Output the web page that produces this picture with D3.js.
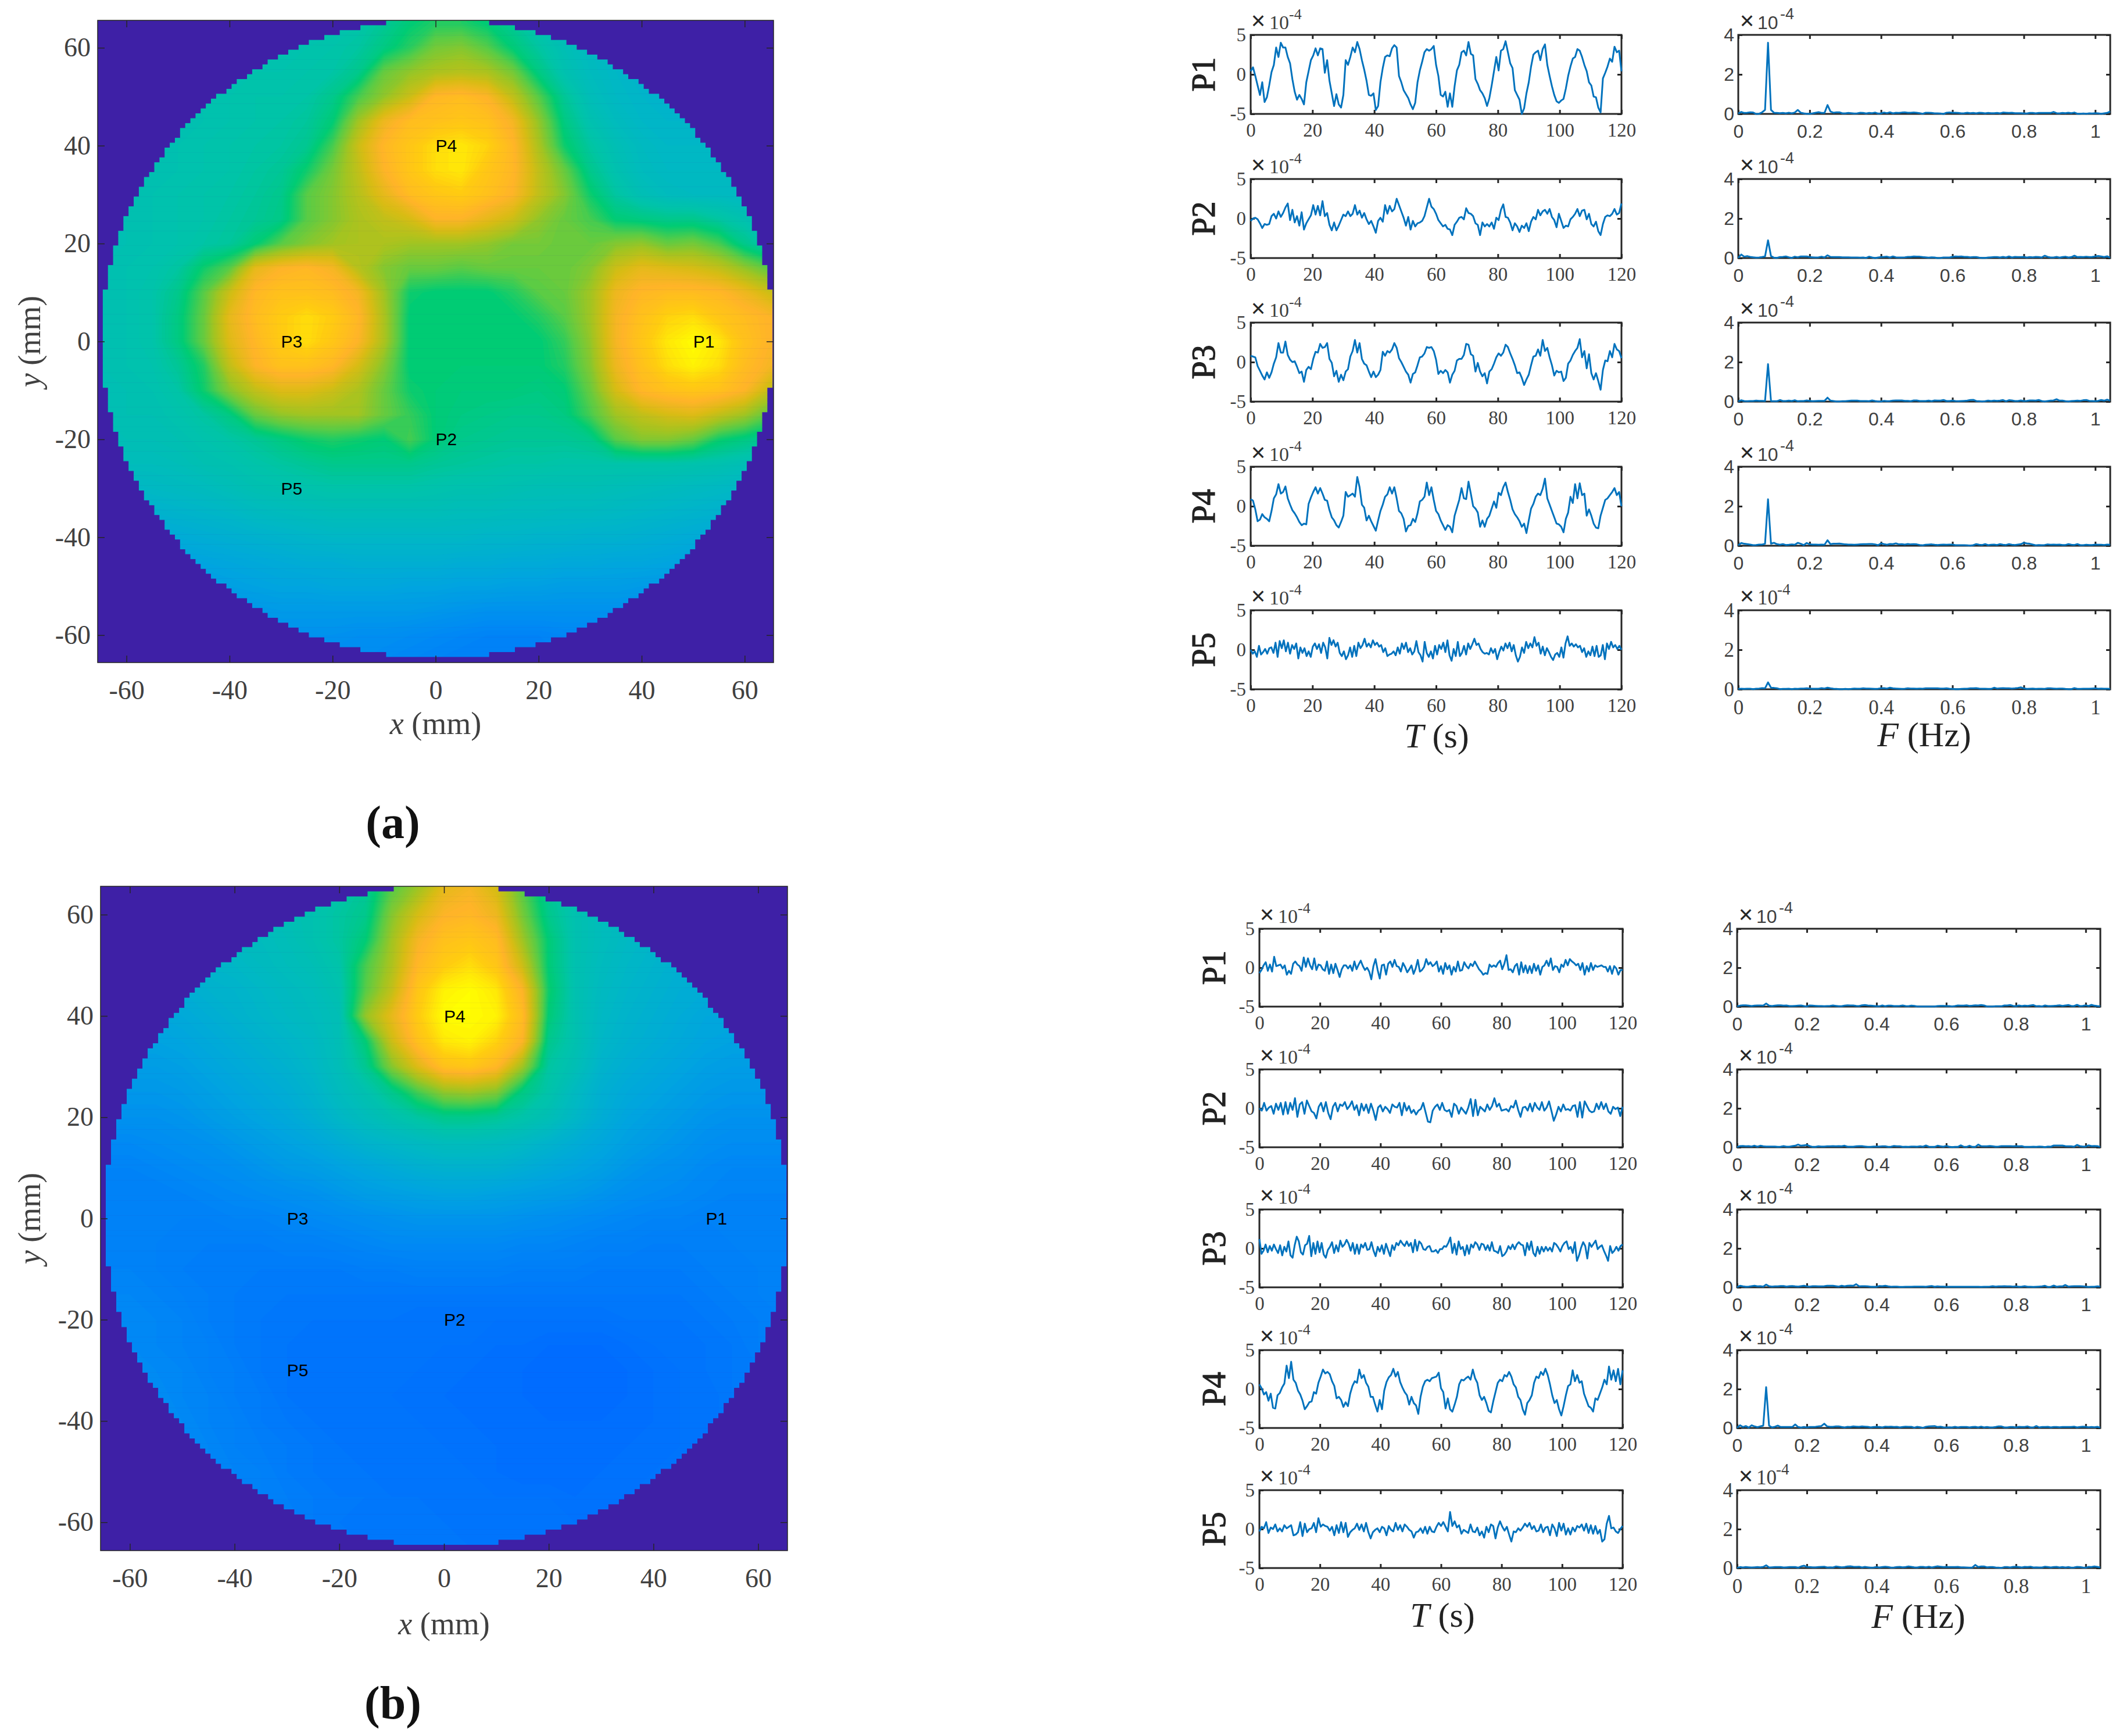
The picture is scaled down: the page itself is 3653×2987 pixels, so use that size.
<!DOCTYPE html>
<html>
<head>
<meta charset="utf-8">
<script src="https://cdn.jsdelivr.net/npm/d3@7"></script>
<style>
  html, body { margin: 0; padding: 0; background: #fff; }
  svg { display: block; }
</style>
</head>
<body>
<svg id="chart" width="3653" height="2987"></svg>
<script>
// Tick labels and point names
const mapTicks = [-60, -40, -20, 0, 20, 40, 60];
const timeTicks = [0, 20, 40, 60, 80, 100, 120];
const freqTicks = [0, 0.2, 0.4, 0.6, 0.8, 1];
const ampTicks = [-5, 0, 5];
const specTicks = [0, 2, 4];
const pointNames = ["P1", "P2", "P3", "P4", "P5"];
const pointX = [50, 0, -30, 0, -30];
const pointY = [0, -20, 0, 40, -30];

// Heat map readings, 5 mm grid: rows y = 65 to -65, columns x = -65 to 65
const mapA = [
  [32,32,32,32,32,33,34,35,36,38,40,44,50,54,54,50,44,38,34,30,28,28,28,28,28,28,28],
  [32,33,34,35,36,37,38,38,39,40,42,48,55,64,66,60,50,42,36,32,30,28,27,27,27,27,27],
  [33,34,35,36,37,38,39,39,40,41,46,62,68,72,74,72,64,48,38,33,30,28,27,27,27,27,27],
  [34,35,36,37,38,39,40,40,41,46,58,68,78,92,94,90,76,60,44,35,31,29,28,28,28,28,28],
  [34,35,36,37,38,39,40,41,43,50,70,86,94,96,98,96,88,68,48,38,33,30,29,29,29,29,29],
  [35,36,37,38,39,40,41,42,45,58,78,92,98,104,106,102,92,72,52,42,36,32,30,30,30,30,30],
  [35,36,37,38,39,40,42,44,52,64,76,90,98,104,106,98,92,76,62,46,38,33,31,31,31,31,31],
  [36,37,38,39,40,41,43,46,60,66,74,84,94,98,100,96,90,76,66,52,42,36,33,32,32,31,31],
  [36,37,38,39,40,42,44,47,60,66,72,76,80,90,90,84,78,68,62,58,50,48,46,46,42,38,35],
  [36,37,38,39,41,43,50,60,66,70,72,72,70,70,70,68,64,64,62,62,66,68,62,64,58,46,38],
  [37,38,39,42,52,60,84,90,92,88,74,66,62,62,60,62,62,62,62,66,78,84,82,80,76,68,60],
  [37,38,40,46,60,78,92,96,96,94,88,70,52,50,50,50,54,60,62,70,86,92,94,94,92,86,78],
  [37,38,40,48,62,84,94,100,104,100,92,72,50,50,50,50,50,54,60,70,88,96,102,104,98,94,90],
  [37,38,40,48,62,82,92,100,104,98,90,72,50,50,50,50,50,50,56,68,88,98,106,110,106,96,90],
  [37,38,39,44,54,76,90,96,96,92,80,66,50,50,50,50,50,50,54,66,86,96,104,108,104,94,88],
  [36,37,38,41,52,66,76,82,82,78,72,62,52,50,49,49,49,48,50,62,80,92,96,98,96,90,76],
  [36,37,37,39,42,48,62,68,70,70,70,62,56,50,48,47,46,46,48,58,70,76,80,82,76,70,60],
  [35,36,36,37,39,41,44,48,52,54,52,50,58,50,46,45,44,44,44,46,60,66,66,62,52,48,44],
  [33,34,34,35,37,38,40,42,44,46,46,46,46,44,43,42,41,41,40,40,40,40,40,39,38,36,34],
  [30,30,31,32,33,35,37,38,39,40,40,40,40,39,38,38,37,36,36,36,35,34,33,32,31,30,28],
  [26,26,27,28,29,30,32,33,34,35,35,35,35,35,34,34,33,33,32,32,31,30,29,28,27,26,25],
  [22,22,23,24,25,26,27,28,29,30,30,30,30,30,30,29,29,28,28,27,27,26,25,24,23,22,21],
  [18,18,19,20,21,22,23,24,25,25,26,26,26,26,25,25,24,24,23,23,22,22,21,20,19,18,18],
  [16,16,16,17,18,19,20,21,21,22,22,22,21,21,20,20,19,19,18,18,18,17,17,16,16,16,16],
  [14,14,14,15,15,16,16,17,17,17,17,17,17,16,15,14,14,14,14,14,14,14,14,14,14,14,14],
  [12,12,12,12,12,12,13,14,14,14,13,13,12,11,10,9,9,9,10,10,11,11,12,12,12,12,12],
  [12,12,12,12,12,12,12,12,12,12,12,11,10,9,8,8,8,8,9,10,11,12,12,12,12,12,12]
];
const mapB = [
  [32,32,32,32,32,32,34,36,38,40,44,60,70,84,88,80,60,44,38,34,32,30,30,30,30,30,30],
  [30,30,30,30,31,32,34,36,38,42,46,66,80,90,92,86,64,46,38,34,32,30,28,28,28,28,28],
  [28,28,28,29,30,32,33,35,38,42,50,70,88,96,98,94,70,50,38,34,31,29,27,27,27,27,27],
  [26,26,26,27,29,30,32,34,36,40,58,72,92,100,104,98,78,50,38,33,30,28,26,26,26,26,26],
  [24,24,24,25,27,28,30,32,34,38,60,76,98,108,110,106,90,52,38,32,29,27,25,24,24,24,24],
  [22,22,22,23,25,27,29,31,33,36,68,84,100,110,110,108,94,50,38,31,28,26,24,22,22,22,22],
  [20,20,20,21,23,25,27,29,31,36,50,78,96,106,108,102,90,46,38,30,27,25,23,21,20,20,20],
  [18,18,18,19,21,23,25,27,30,35,45,66,82,96,98,92,70,42,36,28,25,23,21,19,18,18,18],
  [16,16,16,17,19,21,23,25,28,33,38,46,58,68,70,66,48,40,32,26,23,21,19,17,16,16,16],
  [14,14,14,15,17,19,21,23,26,30,34,38,42,46,46,44,40,36,30,25,21,19,17,15,14,14,14],
  [11,11,12,13,14,16,18,20,22,25,28,30,32,34,34,33,31,28,25,22,19,17,15,13,12,12,12],
  [9,9,10,11,12,13,15,17,18,20,22,24,26,27,27,27,25,23,21,19,16,14,13,11,10,10,10],
  [8,8,8,9,10,11,12,13,14,16,18,19,20,21,21,20,19,18,17,15,13,12,11,10,9,9,9],
  [8,8,8,8,8,9,9,10,11,12,13,14,15,15,15,15,14,13,12,11,10,9,9,8,8,8,8],
  [8,8,8,7,7,7,7,8,8,9,10,11,11,11,11,11,10,10,9,8,8,7,7,7,8,8,8],
  [9,9,8,7,6,6,6,6,6,6,7,7,8,8,8,8,7,7,7,6,6,6,6,7,7,8,8],
  [10,10,9,8,7,6,5,5,5,5,5,5,5,5,5,5,5,5,5,5,5,5,5,6,7,8,8],
  [11,11,10,9,7,6,5,4,4,4,4,4,3,3,3,3,3,3,3,3,4,4,4,5,6,7,8],
  [11,11,10,9,8,6,5,4,3,3,3,3,3,3,3,2,2,1,1,1,2,3,3,4,5,7,8],
  [12,12,11,10,8,7,5,4,3,3,3,3,3,2,2,1,1,0,0,0,1,2,3,4,5,6,8],
  [12,12,12,10,9,7,6,4,3,3,3,3,2,2,1,1,1,0,0,0,1,2,3,3,5,6,8],
  [12,12,12,11,9,8,6,5,4,3,3,3,3,2,2,1,1,1,1,1,1,2,3,3,5,6,8],
  [12,12,12,11,10,8,7,6,5,4,3,3,3,3,2,2,1,1,1,1,2,2,3,4,5,6,8],
  [12,12,12,11,10,9,8,6,5,4,4,3,3,3,3,2,1,1,1,2,2,3,3,4,5,6,8],
  [12,12,12,12,11,10,8,7,6,5,5,4,4,3,3,3,3,3,2,2,3,3,4,4,5,6,8],
  [12,12,12,12,12,11,10,8,6,5,4,4,4,4,3,3,3,3,3,3,4,4,5,5,6,7,8],
  [12,12,12,12,12,12,11,9,7,6,5,5,5,4,4,4,4,4,4,4,4,5,5,6,6,7,8]
];
const colorStops = [0, 10, 20, 30, 40, 50, 60, 70, 80, 90, 100, 110];
const colorRange = ["#006cff", "#0088f5", "#00a4e0", "#00b8c4", "#00c4a8", "#00cc74", "#5ccc44", "#a4c420", "#d8bc14", "#ffb428", "#ffcc10", "#ffff00"];

// Time traces in units of 1e-4, evenly spaced over 0-120 s
const timeA1 = [.4,.9,-.2,-1.4,-2.6,-1,-3.5,-2.9,-1.4,.3,1.2,3.4,2.2,4,3.4,3.4,2.2,1.4,-.6,-2.2,-3.2,-2.6,-3.1,-3.8,-1,.4,1.8,2.4,3.3,2.4,3.3,3.2,.2,1.8,-.8,-2.4,-4,-2.5,-3.8,-4.2,-2.6,1.8,1.2,2.2,3.4,2.8,4.1,3.2,1.8,.6,-.8,-2.6,-2.7,-2.4,-4.5,-4,-1,.8,2.2,2.4,2.3,3.3,3.7,3.4,-.2,-1,-2,-2.5,-3,-3.8,-4.4,-3.6,-1,.5,1.6,2.8,3.2,3,3.2,3.6,1.2,-.2,-2.6,-2.8,-2.2,-4.1,-2.4,-4.1,-1.5,.5,1.2,2.8,3,2.4,4.1,2.6,2.4,-.6,-1.2,-2,-2.4,-3,-4,-3,-1.4,.4,2.2,.5,3,3.2,4.2,2.8,1.4,.8,-2,-2.6,-3.2,-5,-4.3,-2.4,-1,1,2.5,2.8,3,1.8,3.2,3.8,1.2,-.2,-1.5,-2.6,-3.4,-3.6,-3.3,-3.1,-1.8,-.2,1,2,2.2,3.2,3,2.2,1.2,.4,-1,-1.4,-2.8,-2.9,-4.2,-4.8,-.5,.2,1,2,1.6,3.5,2.8,3,.4];
const timeA2 = [-.3,0,.1,-.1,-.6,-1.2,-.7,-.8,-.7,.3,.6,0,.9,.2,.7,1.4,1.9,-.2,1.1,-.5,.3,-.9,.8,-1.4,-.6,-.1,.4,1.7,.5,1.6,.4,2.2,.3,.7,-.8,-1.5,-.5,-1.5,-.9,-.2,.5,.3,.9,.3,.6,1.7,.5,1,.1,.7,-.1,-.7,-.3,-1,-1.8,-.3,.1,-.4,1.7,.6,1.6,.9,1.2,2.5,1.7,.9,.1,-.9,.2,-1.4,-.3,-1,-.6,-.5,-.3,.3,1.4,2.5,1.5,1.2,.6,-.2,-.6,-1,-.8,-1.3,-1.4,-2.1,-.8,-.4,.1,.2,-.1,1.3,.7,.6,.3,-.6,-.8,-2.1,-.5,-1,-.7,-1,-.5,-1.3,.1,-.2,1.1,1.8,.2,.1,-.5,-1.5,-.6,-1,-1.7,-.9,-1.2,-.6,-1.6,-.4,.2,-.1,1.1,.4,.9,1.1,.6,1.2,.2,-.2,-1.1,.6,-.3,-1.2,-.9,-1,-.1,.2,.6,1.2,.3,1,1.1,-.1,.6,-.7,-1,-.4,-1.6,-2.1,-.7,.2,.4,.3,.6,1.2,.5,.7,1.9];
const timeA3 = [.8,.7,.6,-.5,-1.1,-1.7,-2.2,-1.3,-2,-1.3,-.2,.6,2.4,1.2,1.2,2.6,.9,.3,0,.1,-.6,-1.4,-1.2,-2.5,-1,-.6,-.9,.4,1.3,1.2,2.3,1.8,1.9,2.4,.4,-.1,-1.8,-1.1,-2.5,-1.6,-2.3,-1.2,-.9,.7,1.4,2.8,1.2,2.4,.4,-.2,-.4,-1.2,-1.9,-1.2,-1.9,-1.6,-1,1.3,.8,1.4,1.2,1.6,2.4,1.8,.5,0,-.6,-1.2,-1.6,-2.6,-1.5,-1.3,-.4,.6,.7,1.1,1.9,1.8,1.9,1.4,.3,-1.5,-1.1,-1.4,-1,-1.3,-2.6,-1.6,-1.1,.2,.4,.4,.9,2.3,2.2,1,.8,-1.2,-.1,-1.2,-1.8,-1.4,-2.7,-1.2,-.9,-.2,.6,1.1,.8,1.2,2.2,1.9,1.1,.4,-.4,-1.4,-1.3,-2,-2.9,-2.2,-1.6,-.4,.7,.8,1.6,.8,2.8,1.4,1.8,.6,-.4,-1.7,-1.1,-1.3,-1.2,-2.4,-2,-.2,.2,.9,1.4,1.8,2.9,.6,1.4,-.8,1,-1.4,-2.2,-1.4,-2.4,-3.5,-1,.2,.1,1.4,.6,2.3,1.6,1.4,.5];
const timeA4 = [.9,.7,-.4,-1.9,-1.7,-1,-1.4,-1.6,-1.9,-.6,1,1.5,2.8,1.6,1.8,2.5,1,.2,-.5,-.9,-1.4,-2,-2.4,-2.2,-2.3,.3,1.1,1.8,2.4,1.6,2.3,1.6,.8,.7,-.5,-1.4,-1.8,-2.4,-2.7,-2,-1.2,1.8,1.2,1.4,1.6,1.2,3.7,2.4,.2,-.2,-1.8,-1.2,-1.9,-2.5,-3.1,-1.8,-.6,.2,1.2,1.5,2.4,1.6,2.4,1,-.6,-.9,-1.6,-3.2,-2.5,-2.4,-1.6,-2,-.9,.6,.8,1.2,3,1.4,2.4,.8,-.6,-1,-1.8,-2.4,-3,-2.4,-2.6,-3.3,-1.2,-.2,.8,2.3,1,.9,3.1,1.6,0,-.3,-.8,-2.6,-1.8,-2.6,-1.6,-1.2,-.3,.6,-.2,1.7,1.4,2.4,3,1.8,.8,-.4,-1,-1.4,-1.9,-2.6,-2.2,-3.4,-1.8,-.3,.3,1.2,1.6,1.4,2.2,3.5,1,.2,-.6,-1.4,-2.2,-2.3,-2.6,-3.3,-1.6,-.8,1.2,.4,2.8,1,2.9,1.4,1.6,-1.2,-.4,-1.2,-2.2,-2.7,-2.8,-1.2,-.2,.8,1,1.4,1.8,2.3,1.4,1.8,0];
const timeA5 = [0,-.5,-.2,-.9,.5,-.6,-.3,.1,-.5,.2,.3,-.4,.9,-.9,1.1,.2,1.2,-.2,.9,-.5,.6,.1,.8,-1.1,.3,-.4,.2,-.8,-.2,-.9,.4,.8,.1,.7,-.4,.9,.3,-1.1,1.5,.6,1.2,.4,.9,-.4,-.8,-.2,-1.2,-.7,.3,-.9,.5,-.8,.9,.2,.6,1.4,.4,.8,.3,1.2,.6,.9,.4,.6,-.3,.2,-.8,-.6,-.5,-.2,-.7,.3,-.5,.8,.1,.9,-.3,.2,-.6,-.2,1.1,-.3,-.7,-1.5,1,-.4,-.9,-.2,-1.1,.5,-.6,.6,.1,.9,-.3,1.2,-.7,-1.4,.1,-.8,1,-.8,-.4,.5,-.6,.8,.1,.7,1.4,.6,.8,.1,-.3,-.5,-.4,-.6,.2,-.4,.1,-1.2,-.3,.4,-.1,.8,.2,.9,-.2,.6,-.7,-1.5,-.9,.3,-.4,1,.2,.8,.3,1.6,.5,.9,-.5,.4,-.7,.2,-.3,-.9,-1.3,-.6,-.4,-.9,.3,-1,.8,1.7,.5,.8,.4,.7,.3,.5,-.3,.2,-.9,-.2,-.7,.4,-.8,.5,-.9,-.7,.6,-1.2,.8,.1,1,.3,.6,.1,.5,0];
const timeB1 = [-.7,-.3,.3,.7,-.4,.4,-.5,1.4,.2,.3,.4,-.1,.3,-.9,-.4,-.8,.5,.8,.4,.2,-.4,1.3,.1,1.2,.3,-.2,1.2,-.3,.4,.3,-.2,-.4,.8,-.8,.4,-.7,.5,-.3,-1.2,-.2,.3,.3,-.1,.3,-.4,.8,-.2,.4,.9,.2,-.3,0,-.5,-1.5,.2,1.1,-.3,-1.4,.3,.4,-.9,.5,.8,.1,1,.2,.1,-.5,.6,.1,-.6,-.2,.3,-.8,-.1,1,-.5,-.3,.1,1.1,.4,.7,.2,.4,.8,-.5,.2,-.8,.6,-.2,.3,-.9,.1,-.5,.8,-.4,-.3,.7,.2,-.1,.5,.2,.8,.3,-.2,-.5,-.9,-.7,-.8,.4,.1,.3,.1,.6,.9,-.2,.5,1.6,-.3,-.2,-.6,.2,.5,-.9,.7,-.6,.3,-.7,.2,-.7,.5,-.4,.3,-.9,.1,.3,.9,.2,1.2,-.3,.2,.1,-.6,.4,.1,1,.3,1.1,.8,.6,.3,.5,-.3,.6,-.9,.2,-.5,.6,-.3,.3,.1,.2,.3,.1,.1,-.5,.2,-.8,.2,-.1,-.9,-.3,-.3];
const timeB2 = [0,-.3,.7,-.3,.1,.3,-.7,.6,-.2,.7,-.8,.8,-.7,.7,-.2,1.3,-1.1,.5,.8,-.7,1,.3,-.4,-.6,-1.3,.2,.7,-.4,.8,-.6,-1.4,.2,.7,-.4,.5,.3,.8,-.1,.3,.9,-.2,.4,-.9,.6,-.3,.5,-.6,.6,-.3,-1.5,.1,.4,-.4,.2,-.1,-.6,.5,.2,.1,.7,-.9,.7,-.3,.3,-.6,-.2,-.8,-.3,-.1,.7,-.5,-1.7,-1.8,-.3,.2,.5,-.2,.7,-.2,-.4,-.2,-1.1,.6,.3,-.7,.1,-.3,-.7,.1,1.2,-1,1.1,-.9,.2,-.1,-.4,.5,-.2,.3,1.3,.2,.6,-.3,-.2,-.1,-.4,.3,.1,1,-.2,-1.1,.1,.2,-.3,.6,-.4,.7,.1,-.2,.8,-.3,.1,.9,-.3,-1.6,-.8,.2,-.4,.5,-.2,-.1,-.3,.3,.4,-1.1,.8,-1.2,.9,.3,-.3,-.5,-.4,.6,-.1,.8,-.1,.6,-.4,-.7,.2,-.1,.1,-1,.2];
const timeB3 = [1.2,-.7,-.3,.5,-.5,.3,-.3,.5,-.1,-.6,.4,-.9,.2,-.4,.9,-.9,-1.2,.4,1.5,.9,-.5,-.8,.4,.6,1.6,-1,.7,-.7,.9,-.5,.7,-.8,-1.2,-.2,.2,.8,-.6,.4,-.4,1,.2,.5,1.1,.6,-.3,.7,-.7,.5,-.7,.5,.1,.7,-.2,-.1,.8,-.3,-1,.2,-.4,.4,-.7,.6,-.2,-1,.4,-.2,.7,.4,1,.6,.3,.9,.3,.7,-.5,1.1,-.3,.9,.6,-.1,-.2,.2,.3,-.4,-.4,-.2,-.6,-.1,-.1,.3,.2,.7,1.4,-.6,.6,-.8,.9,-.1,.2,-.9,.4,-.7,.5,.1,.8,.5,-.2,.6,.5,-.2,.4,-.3,.8,-.3,-.4,-.6,.3,-1,-.8,-.4,.3,-.1,.5,-.1,.5,.8,.5,.4,-.9,.7,-.2,.9,-.6,-1,.2,-.7,.2,-.4,.2,-.3,.1,-.4,.7,.5,.1,-.4,.3,.7,.9,-.1,.2,-.6,.8,-1.6,-.9,.1,.8,.3,-1.3,.7,.2,.6,1,-.1,.2,.4,-.3,-.9,-1.6,.3,-.6,-.3,.2,-.3,.3,.5];
const timeB4 = [.6,.1,-.7,-.4,-1.5,-.6,-2.4,-2.5,-.8,-.5,.2,.7,3,1.4,3.5,1.2,.8,-.2,-.7,-1.5,-2.6,-2.2,-1.7,-1.6,-.4,-.6,.8,1.6,2.5,2,2.2,1.9,1,.4,-1.2,-1,-1.4,-2.3,-1.7,-2.2,-.6,.4,1,.8,2.5,1.4,1.8,.8,.3,-1,-1,-2,-2.9,-1.4,-2.6,-.2,.9,1.5,1.8,2.6,1.6,2.2,.9,.2,-.4,-.8,-2,-1,-1.8,-2.1,-3.2,-1,.3,1,1.2,1,1.4,1.5,1.6,2.1,.1,-.4,-2.5,-1.2,-2.6,-2.9,-2,-1,.6,1.2,1.1,1.4,1.6,1.2,2.5,1.4,.8,-.8,-1.4,-1,-1.8,-2.8,-3,-1.6,-.4,.8,1.2,1,1.8,1.6,2.2,1.6,.6,.2,-1,-1.4,-2.6,-3.3,-1.8,-1.4,-.8,.8,1.6,1.4,2.2,1.8,2.6,1.8,.6,-.8,-1.8,-1.4,-2.6,-3.4,-2.2,-.8,.4,.6,2.4,1,1.8,.8,1,-.6,-1.4,-2.2,-2.4,-2.9,-1.2,-1.4,-.6,.2,1.2,.6,2.9,1.2,2.4,1,2.6,.6,2.4];
const timeB5 = [-.3,.3,.1,.9,-.5,.2,0,.6,-.3,.1,-.3,.5,.1,.3,.5,-.8,-.7,-.4,.9,-.9,.7,-.4,0,.1,.8,-.4,1.4,.3,.6,.4,.3,-.2,.3,-.8,.5,-.5,.9,-.4,.8,-1,-.4,-.1,.1,.7,-.1,.6,-.3,.8,-.4,-1.2,-.4,-.1,.1,-.4,.3,.1,-.8,.4,-.1,-.3,.8,-.1,.5,-.3,.6,.3,-.1,-.3,-1.1,-.4,-.3,.1,-.5,.3,-.6,.3,-.3,-.4,.3,.8,.4,.9,.3,-.3,2.2,.4,1,.2,.5,-.6,-.1,-.3,-.5,.6,-.3,-.4,.2,-.8,-.3,-1.1,.3,-.4,.6,.4,-1.2,.2,1,.3,-.2,.3,-.7,-1.6,-.3,-.4,.1,-.2,.2,.7,.3,.8,0,.4,-.3,-.2,.6,-.4,.2,.3,-.8,.6,.1,-.9,.8,-.2,.7,-.7,.1,-.7,.2,-.3,.4,.2,.6,-.2,.7,-.5,.5,-.6,.4,-.6,-.1,-1.6,-1.3,.7,1.7,.1,.2,-.3,-.5,0,.4];

// Spectra in units of 1e-6, one value per 1/120 Hz
const specA1 = [2,10,5,6,8,7,0,1,8,20,360,20,6,5,4,5,3,6,3,7,20,6,3,1,1,3,6,9,5,5,45,12,6,8,8,3,3,5,4,2,3,6,5,2,5,4,7,2,3,7,4,8,3,6,5,7,8,6,6,7,6,4,1,6,6,5,3,3,2,0,6,7,6,6,5,3,4,6,4,5,3,6,5,3,5,4,4,5,3,7,6,5,6,4,4,4,3,2,5,5,3,5,5,5,5,5,10,4,3,5,4,6,4,7,1,1,2,1,3,2,4,3,1,3,5,12];
const specA2 = [1,18,7,10,6,4,2,3,5,8,90,10,2,1,5,6,8,4,1,7,4,8,8,8,5,4,3,4,7,3,14,6,5,5,5,4,4,4,3,3,3,2,3,1,7,3,0,3,5,6,7,3,8,4,3,3,4,6,6,8,7,7,5,4,2,4,3,0,1,3,3,3,6,8,7,8,6,6,4,5,5,2,1,1,3,4,5,5,3,6,3,8,3,6,5,5,6,3,5,4,6,5,3,12,6,3,3,6,2,5,7,3,5,12,5,6,5,7,5,6,8,10,8,5,9,2];
const specA3 = [1,7,3,2,3,3,5,4,4,3,190,3,2,2,8,3,3,5,3,7,2,3,3,6,4,2,3,4,4,4,20,5,3,1,1,2,2,4,5,5,5,3,3,3,2,6,3,1,1,4,2,3,5,6,6,6,4,4,2,6,6,3,3,3,5,2,6,5,5,8,3,3,5,3,2,3,4,5,8,9,3,2,1,2,5,3,5,4,5,8,2,7,6,3,3,6,3,4,6,6,5,8,3,1,3,5,6,12,5,5,2,1,3,4,5,4,7,8,4,3,2,4,8,5,10,5];
const specA4 = [2,14,10,8,6,3,4,6,6,10,235,10,15,8,5,8,4,5,7,5,15,10,3,14,7,6,6,5,6,5,28,8,10,10,11,9,7,6,6,5,6,7,8,8,9,9,7,3,12,8,5,9,8,12,7,8,6,9,7,8,7,4,2,5,6,7,5,4,5,6,5,6,6,3,3,3,3,2,1,3,8,5,4,8,3,5,6,4,8,5,4,8,5,4,6,8,15,12,10,6,2,4,3,4,7,5,6,5,6,4,4,8,5,4,8,3,3,5,4,4,6,5,5,4,6,5];
const specA5 = [2,3,2,3,3,1,3,4,6,5,35,8,7,5,1,2,2,3,1,3,2,4,4,5,4,3,3,3,6,4,8,5,3,2,1,1,2,1,2,4,3,3,5,4,4,3,2,3,5,6,4,8,5,4,3,2,3,5,4,4,3,4,3,5,5,5,5,5,4,4,5,3,2,1,1,2,3,3,5,5,6,4,3,3,2,2,8,4,5,6,5,5,4,5,7,10,5,2,3,4,2,3,3,2,5,5,4,3,4,4,2,1,1,6,2,2,3,3,3,4,5,3,4,3,3,2];
const specB1 = [1,5,7,7,5,3,5,6,6,5,16,5,3,5,7,7,5,6,3,3,4,5,6,3,1,6,5,4,3,3,2,3,4,6,4,2,2,5,7,6,6,4,3,7,8,6,5,4,2,2,6,2,5,5,3,3,4,6,3,2,5,4,1,1,1,1,1,1,1,3,4,4,3,3,1,3,6,5,5,7,4,5,7,6,8,6,1,1,1,2,2,2,6,6,8,4,2,6,3,5,4,6,8,2,3,1,6,3,3,4,5,7,4,6,8,4,3,9,3,4,7,3,9,5,3,2];
const specB2 = [1,6,7,5,6,4,8,3,8,5,4,4,4,4,2,3,6,3,3,6,8,14,8,10,12,6,2,2,5,4,4,5,5,6,5,6,5,8,3,3,3,5,6,6,4,2,2,4,4,4,5,5,2,3,7,5,5,2,3,2,4,4,3,5,3,9,3,2,2,8,5,3,7,3,1,2,2,10,3,2,8,2,2,14,6,5,5,7,5,3,4,6,6,6,6,5,6,5,6,2,2,2,3,2,4,3,1,4,3,9,9,9,9,6,5,5,3,12,6,4,4,10,6,7,6,2];
const specB3 = [1,8,5,3,4,6,8,5,6,4,14,6,4,5,5,7,7,4,6,7,5,4,6,8,5,4,6,6,5,5,6,8,8,8,6,4,8,5,8,9,8,16,5,6,6,5,3,3,3,7,6,8,5,3,4,4,2,2,3,3,3,4,4,4,4,3,5,7,3,5,4,4,3,3,3,3,3,3,3,3,3,3,3,3,2,3,3,4,6,4,5,5,6,5,5,4,5,3,4,6,3,3,2,3,4,5,8,2,3,9,3,5,5,12,4,5,6,6,6,5,4,2,3,3,5,4];
const specB4 = [1,14,5,10,2,14,8,4,8,12,210,12,3,6,12,5,5,5,5,5,18,5,2,5,3,5,5,6,8,10,22,8,6,6,8,8,5,3,6,5,8,7,6,8,7,6,3,5,6,5,3,7,6,7,5,6,3,5,7,6,6,2,6,4,1,6,8,9,10,5,7,4,3,4,3,6,3,5,5,5,3,5,6,3,7,3,5,3,3,5,8,8,3,3,5,5,3,6,5,5,8,3,3,10,3,5,5,6,3,5,5,4,5,5,5,5,7,3,5,7,6,4,5,4,6,2];
const specB5 = [1,5,3,5,4,3,4,5,4,6,14,3,4,5,5,5,3,4,5,5,5,2,8,12,6,5,4,4,5,6,7,3,4,3,8,6,4,5,8,9,7,6,7,3,6,4,2,3,5,3,5,7,5,2,3,5,6,4,5,8,6,4,3,6,6,4,7,3,6,9,7,5,6,5,5,5,6,4,4,3,2,3,16,5,8,8,4,5,5,3,2,1,5,5,3,6,7,5,3,6,5,7,3,4,3,3,7,5,3,5,6,3,5,3,5,2,3,6,5,3,2,6,5,8,6,3];

const timeSeries = [[timeA1, timeA2, timeA3, timeA4, timeA5], [timeB1, timeB2, timeB3, timeB4, timeB5]];
const specSeries = [[specA1, specA2, specA3, specA4, specA5], [specB1, specB2, specB3, specB4, specB5]];

const svg = d3.select("#chart");
const SERIF = "'Liberation Serif', serif";
const SANS = "'Liberation Sans', sans-serif";
const GREY = "#404040";
const DARK = "#262626";
const LINE = "#0072BD";

const heatColor = d3.scaleLinear().domain(colorStops).range(colorRange);

// Inward ticks on all four sides plus labels on left and bottom
function drawFrame(g, x, y, xTicks, yTicks, o) {
    const w = o.w, h = o.h;
    const fmt = d => String(d);
    const style = sel => {
        sel.select(".domain").remove();
        sel.selectAll("line").attr("stroke", DARK).attr("stroke-width", o.stroke);
        sel.selectAll("text").attr("fill", GREY).style("font-family", o.font).style("font-size", o.size + "px");
    };
    g.append("g").attr("transform", `translate(0,${h})`)
        .call(d3.axisBottom(x).tickValues(xTicks).tickFormat(fmt).tickSize(-o.tick).tickPadding(o.padX)).call(style);
    g.append("g")
        .call(d3.axisLeft(y).tickValues(yTicks).tickFormat(fmt).tickSize(-o.tick).tickPadding(o.padY)).call(style);
    g.append("g")
        .call(d3.axisTop(x).tickValues(xTicks).tickFormat("").tickSize(-o.tick)).call(style);
    g.append("g").attr("transform", `translate(${w},0)`)
        .call(d3.axisRight(y).tickValues(yTicks).tickFormat("").tickSize(-o.tick)).call(style);
    g.append("rect").attr("width", w).attr("height", h)
        .attr("fill", "none").attr("stroke", DARK).attr("stroke-width", o.stroke);
}

function drawMap(o) {
    const w = o.right - o.left, h = o.bottom - o.top;
    const g = svg.append("g").attr("transform", `translate(${o.left},${o.top})`);
    const x = d3.scaleLinear().domain([-65.6, 65.6]).range([0, w]);
    const y = d3.scaleLinear().domain([-65.6, 65.6]).range([h, 0]);

    g.append("rect").attr("width", w).attr("height", h).attr("fill", "#3e20a6");

    // staircase edge of the disc, one row per mm
    const clip = g.append("clipPath").attr("id", o.id);
    d3.range(-65, 65).forEach(row => {
        const d = row + 0.5;
        const half = Math.round(Math.sqrt(65.3 * 65.3 - d * d));
        clip.append("rect").attr("x", x(0.4 - half)).attr("y", y(row + 1.6))
            .attr("width", x(half) - x(-half)).attr("height", y(row) - y(row + 1) + 0.5);
    });

    const contours = d3.contours().size([27, 27]).thresholds(d3.range(0, 111, 1))(o.grid.flat());
    const path = d3.geoPath(d3.geoTransform({
        point(gx, gy) {
            this.stream.point(x(-65 + (gx - 0.5) * 5), y(65 - (gy - 0.5) * 5));
        }
    }));
    g.append("g").attr("clip-path", `url(#${o.id})`)
        .selectAll("path").data(contours).join("path")
        .attr("d", path)
        .attr("fill", d => heatColor(d.value));

    g.selectAll(".pt").data(pointNames).join("text")
        .attr("class", "pt")
        .attr("x", (d, i) => x(pointX[i]))
        .attr("y", (d, i) => y(pointY[i]))
        .attr("dy", "0.35em")
        .style("font-family", SANS).style("font-size", "30px")
        .attr("fill", "#000").text(d => d);

    drawFrame(g, x, y, mapTicks, mapTicks, { w, h, tick: 12, stroke: 1.5, font: SERIF, size: 46, padX: 30, padY: 12 });

    const xl = svg.append("text").attr("x", o.left + x(0)).attr("y", o.xLabelY).attr("text-anchor", "middle")
        .attr("dy", "0.35em").style("font-family", SERIF).style("font-size", "54px").attr("fill", GREY);
    xl.append("tspan").style("font-style", "italic").text("x");
    xl.append("tspan").text(" (mm)");
    const yl = svg.append("text").attr("transform", `translate(${o.yLabelX},${o.top + y(0)}) rotate(-90)`).attr("text-anchor", "middle")
        .attr("dy", "0.35em").style("font-family", SERIF).style("font-size", "54px").attr("fill", GREY);
    yl.append("tspan").style("font-style", "italic").text("y");
    yl.append("tspan").text(" (mm)");
}

function drawExponent(g, o) {
    g.append("text").attr("x", o.timesX).attr("y", -10).attr("text-anchor", "middle")
        .style("font-family", SANS).style("font-size", "42px").attr("fill", DARK).text("\u00d7");
    g.append("text").attr("x", o.tenX).attr("y", -10)
        .style("font-family", o.font).style("font-size", o.tenSize + "px").attr("fill", GREY).text("10");
    g.append("text").attr("x", o.supX).attr("y", -27)
        .style("font-family", o.font).style("font-size", o.supSize + "px").attr("fill", GREY).text("-4");
}

function drawTrace(o) {
    const g = svg.append("g").attr("transform", `translate(${o.left},${o.top})`);
    const x = d3.scaleLinear().domain(o.xDomain).range([0, o.w]);
    const y = d3.scaleLinear().domain(o.yDomain).range([o.h, 0]);
    drawFrame(g, x, y, o.xTicks, o.yTicks, { w: o.w, h: o.h, tick: 7, stroke: 3, font: o.font, size: o.size, padX: o.padX, padY: o.padY });
    const line = d3.line().x((d, i) => x(o.xOf(i, o.values.length))).y(d => y(o.scale * d));
    g.append("path").datum(o.values).attr("d", line)
        .attr("fill", "none").attr("stroke", LINE).attr("stroke-width", 3).attr("stroke-linejoin", "round");
    drawExponent(g, o.exp);
    if (o.name) {
        g.append("text").attr("transform", `translate(${o.nameX},${o.h / 2}) rotate(-90)`)
            .attr("text-anchor", "middle").attr("dy", "0.35em")
            .style("font-family", SERIF).style("font-size", "56px")
            .attr("fill", "#222").attr("stroke", "#222").attr("stroke-width", 1.2).text(o.name);
    }
}

function axisTitle(cx, cy, italic, rest) {
    const t = svg.append("text").attr("x", cx).attr("y", cy).attr("dy", "0.35em").attr("text-anchor", "middle")
        .style("font-family", SERIF).style("font-size", "60px").attr("fill", "#222");
    t.append("tspan").style("font-style", "italic").text(italic);
    t.append("tspan").text(rest);
}

drawMap({ id: "discA", grid: mapA, left: 168, right: 1331, top: 35, bottom: 1140, xLabelY: 1244, yLabelX: 50 });
drawMap({ id: "discB", grid: mapB, left: 173, right: 1355, top: 1525, bottom: 2668, xLabelY: 2793, yLabelX: 50 });

// Two stacks of panels per figure part
const stacks = [
    { tLeft: 2152, tW: 638, fLeft: 2991, fW: 640, tops: [60, 308, 555, 803, 1050], h: 136, nameX: -82 },
    { tLeft: 2167, tW: 625, fLeft: 2989, fW: 625, tops: [1598, 1840, 2081, 2323, 2564], h: 134, nameX: -79 }
];

stacks.forEach((s, k) => {
    s.tops.forEach((top, i) => {
        drawTrace({
            left: s.tLeft, top, w: s.tW, h: s.h, name: pointNames[i], nameX: s.nameX,
            values: timeSeries[k][i], scale: 1,
            xOf: (j, n) => 120 * j / (n - 1),
            xDomain: [0, 120], yDomain: [-5, 5], xTicks: timeTicks, yTicks: ampTicks,
            font: SERIF, size: 33, padX: 16, padY: 8,
            exp: { timesX: 13, tenX: 32, supX: 66, font: SERIF, tenSize: 34, supSize: 26 }
        });
        const serif = i === 4;
        drawTrace({
            left: s.fLeft, top, w: s.fW, h: s.h, name: null,
            values: specSeries[k][i], scale: 0.01,
            xOf: j => j / 120,
            xDomain: [0, 1.042], yDomain: [0, 4], xTicks: freqTicks, yTicks: specTicks,
            font: serif ? SERIF : SANS, size: serif ? 35 : 32, padX: 18, padY: 7,
            exp: { timesX: 15, tenX: 33, supX: serif ? 67 : 72, font: serif ? SERIF : SANS, tenSize: serif ? 35 : 32, supSize: 27 }
        });
    });
});

axisTitle(2472, 1265, "T", " (s)");
axisTitle(3311, 1263, "F", " (Hz)");
axisTitle(2482, 2778, "T", " (s)");
axisTitle(3301, 2780, "F", " (Hz)");

["(a)", "(b)"].forEach((t, i) => {
    svg.append("text").attr("x", 676).attr("y", [1414, 2929][i]).attr("dy", "0.35em").attr("text-anchor", "middle")
        .style("font-family", SERIF).style("font-size", "80px").style("font-weight", "bold").attr("fill", "#111").text(t);
});
</script>
</body>
</html>
